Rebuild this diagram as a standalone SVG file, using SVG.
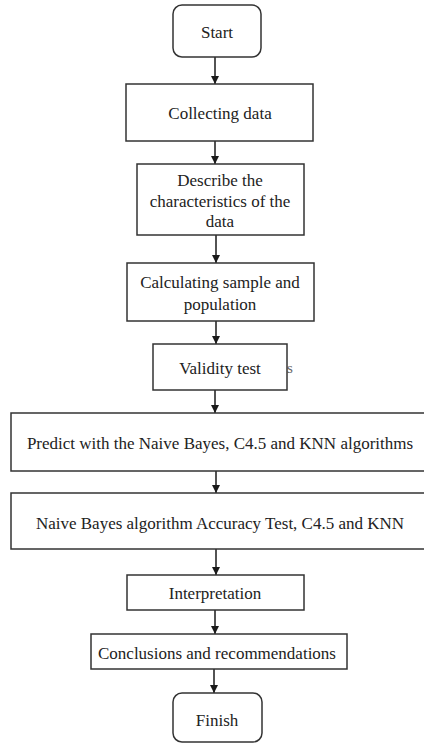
<svg xmlns="http://www.w3.org/2000/svg" width="424" height="744" viewBox="0 0 424 744">
<defs>
<marker id="ah" viewBox="0 0 10 10" refX="10" refY="5" markerWidth="8" markerHeight="8" markerUnits="userSpaceOnUse" orient="auto">
<path d="M0,0 L10,5 L0,10 z" fill="#1a1a1a"/>
</marker>
<style>
.b{fill:#fff;stroke:#333;stroke-width:1.5}
.t{font-family:"Liberation Serif","Times New Roman",serif;font-size:17px;fill:#222;text-anchor:middle}
.c{stroke:#1a1a1a;stroke-width:1.5;fill:none;marker-end:url(#ah)}
</style>
</defs>
<rect width="424" height="744" fill="#fff"/>
<g id="connectors">
<line class="c" x1="215" y1="57" x2="215" y2="84"/>
<line class="c" x1="215" y1="141" x2="215" y2="164"/>
<line class="c" x1="216" y1="235" x2="216" y2="263"/>
<line class="c" x1="216" y1="321" x2="216" y2="344"/>
<line class="c" x1="215" y1="390" x2="215" y2="413"/>
<line class="c" x1="216" y1="471" x2="216" y2="493"/>
<line class="c" x1="216" y1="549" x2="216" y2="575"/>
<line class="c" x1="215" y1="610" x2="215" y2="634"/>
<line class="c" x1="214" y1="669" x2="214" y2="693"/>
</g>
<g id="start"><rect class="b" x="173" y="5" width="88" height="52" rx="9"/><text class="t" x="217" y="38">Start</text></g>
<g id="collect"><rect class="b" x="126" y="84" width="187" height="57"/><text class="t" x="220" y="119">Collecting data</text></g>
<g id="describe"><rect class="b" x="137" y="164" width="167" height="71"/><text class="t" x="220" y="186">Describe the</text><text class="t" x="220" y="207">characteristics of the</text><text class="t" x="220" y="227">data</text></g>
<g id="calc"><rect class="b" x="127" y="263" width="187" height="58"/><text class="t" x="220" y="288">Calculating sample and</text><text class="t" x="220" y="310">population</text></g>
<g id="validity"><text x="287" y="373" style="font-family:'Liberation Serif',serif;font-size:15px;fill:#666">s</text><rect class="b" x="153" y="344" width="134" height="46"/><text class="t" x="220" y="374">Validity test</text></g>
<g id="predict"><rect class="b" x="11" y="413" width="420" height="58"/><text class="t" x="220" y="449">Predict with the Naive Bayes, C4.5 and KNN algorithms</text></g>
<g id="accuracy"><rect class="b" x="11" y="493" width="420" height="56"/><text class="t" x="220" y="529">Naive Bayes algorithm Accuracy Test, C4.5 and KNN</text></g>
<g id="interp"><rect class="b" x="127" y="575" width="177" height="35"/><text class="t" x="215" y="599">Interpretation</text></g>
<g id="concl"><rect class="b" x="91" y="634" width="256" height="35"/><text class="t" x="217" y="659">Conclusions and recommendations</text></g>
<g id="finish"><rect class="b" x="173" y="693" width="89" height="49" rx="9"/><text class="t" x="217" y="726">Finish</text></g>
</svg>
